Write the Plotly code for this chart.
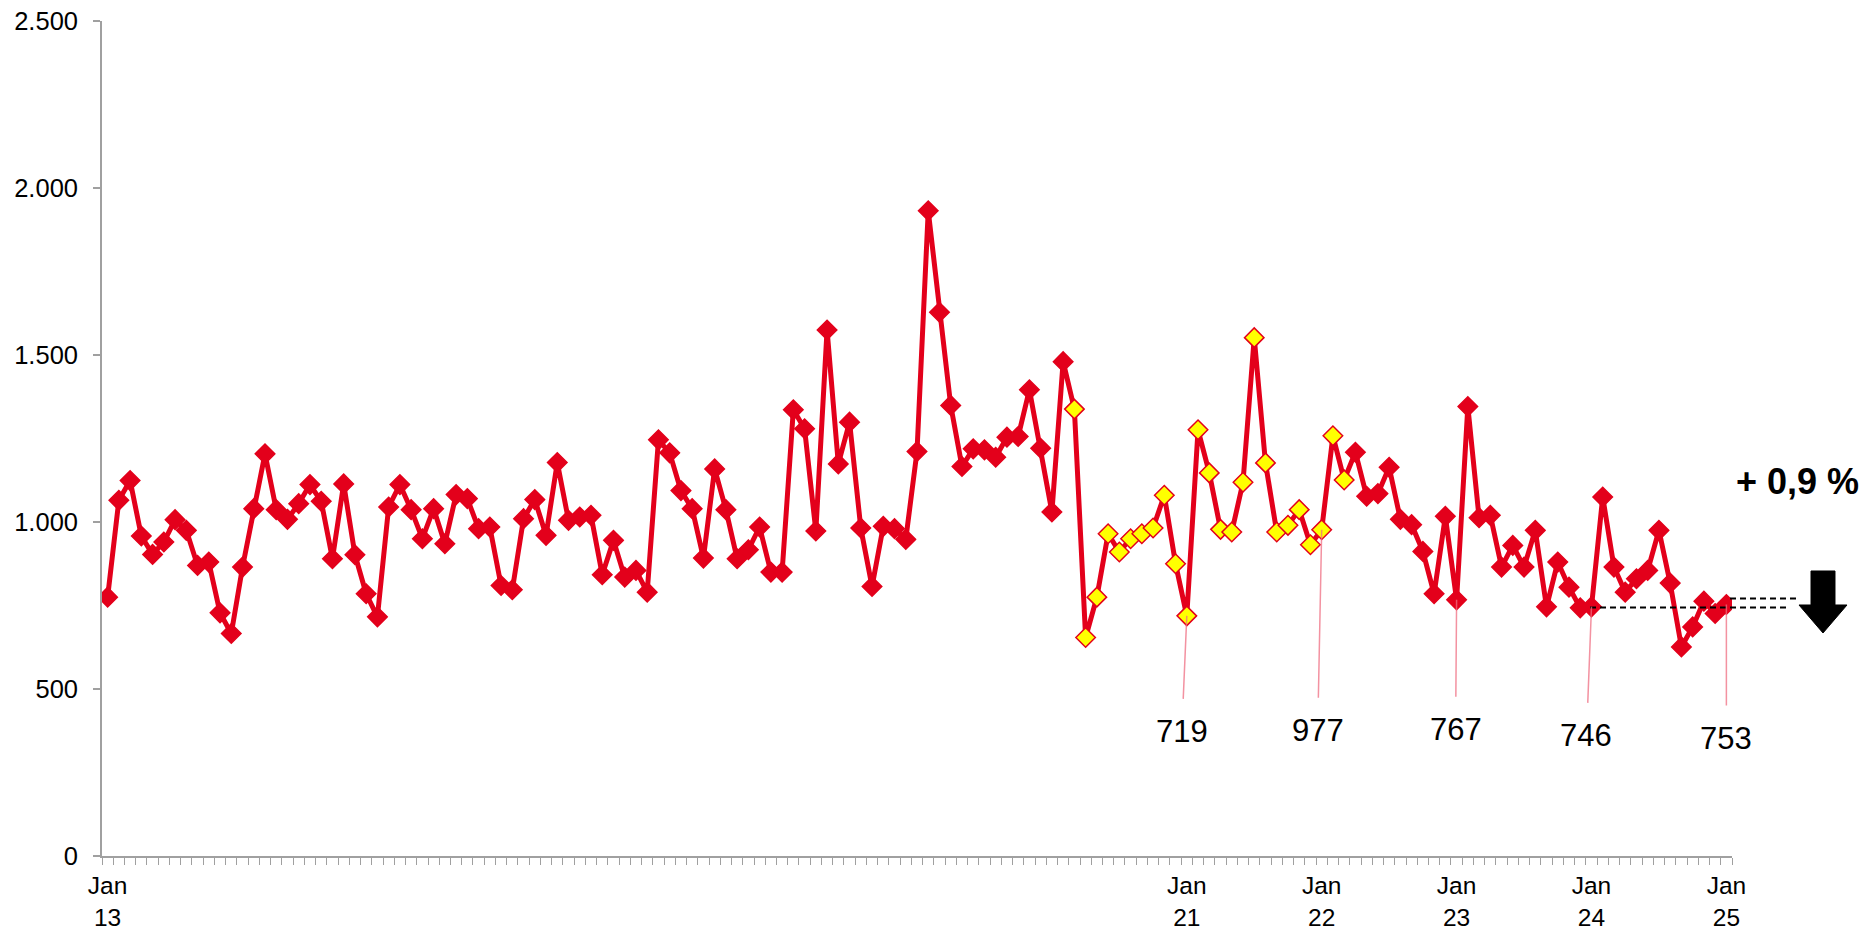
import plotly.graph_objects as go
import pandas as pd

# Monthly series Jan 2013 .. Jan 2025 (145 months)
months = [d.strftime("%b %y") for d in pd.date_range("2013-01-01", "2025-01-01", freq="MS")]

values = [
    775, 1065, 1124, 958, 903, 940, 1007, 975, 870, 880, 728, 666,      # 2013
    865, 1040, 1204, 1037, 1008, 1055, 1112, 1062, 890, 1114, 902, 785,  # 2014
    716, 1045, 1112, 1037, 950, 1040, 935, 1082, 1070, 980, 985, 810,    # 2015
    797, 1010, 1067, 960, 1178, 1005, 1015, 1020, 842, 945, 835, 855,    # 2016
    790, 1246, 1207, 1094, 1040, 892, 1159, 1037, 890, 917, 985, 850,    # 2017
    850, 1336, 1279, 973, 1575, 1174, 1299, 982, 807, 987, 980, 948,     # 2018
    1211, 1932, 1628, 1349, 1166, 1219, 1216, 1194, 1254, 1256, 1396, 1221,  # 2019
    1030, 1480, 1338, 654, 775, 965, 910, 950, 965, 982, 1080, 875,      # 2020
    719, 1276, 1147, 978, 970, 1119, 1552, 1177, 970, 990, 1037, 932,    # 2021
    977, 1258, 1126, 1209, 1077, 1085, 1164, 1008, 992, 912, 785, 1017,  # 2022
    767, 1346, 1013, 1020, 865, 930, 865, 975, 746, 880, 805, 743,       # 2023
    746, 1075, 865, 790, 830, 855, 975, 817, 626, 686, 763, 726,         # 2024
    753,                                                                  # Jan 2025
]

# months highlighted with yellow markers (Mar 2020 .. Mar 2022)
highlight_start = "Mar 20"
highlight_end = "Mar 22"

# Labelled January values and x-axis labels
label_months = ["Jan 21", "Jan 22", "Jan 23", "Jan 24", "Jan 25"]
tick_months = ["Jan 13", "Jan 21", "Jan 22", "Jan 23", "Jan 24", "Jan 25"]
tick_text = ["Jan<br>13", "Jan<br>21", "Jan<br>22", "Jan<br>23", "Jan<br>24", "Jan<br>25"]
change_text = "+ 0,9 %"

y_ticks = [0, 500, 1000, 1500, 2000, 2500]

RED = "#E3001B"
YELLOW = "#FFFF00"
GRAY = "#A0A0A0"
FONT = "Liberation Sans, Arial, sans-serif"

x = list(range(len(months)))
hs, he = months.index(highlight_start), months.index(highlight_end)
fill = [YELLOW if hs <= i <= he else RED for i in x]

fig = go.Figure()
fig.add_trace(go.Scatter(
    x=x, y=values, mode="lines+markers",
    line=dict(color=RED, width=5),
    marker=dict(symbol="diamond", size=15, color=fill, line=dict(color=RED, width=1.5)),
    hoverinfo="skip", showlegend=False,
))

# offsets (pixels) of the value labels relative to their points
label_offsets = [(-5, 116), (-4, 201), (-1, 130), (-5, 129), (0, 134)]
for m, (ax, ay) in zip(label_months, label_offsets):
    i = months.index(m)
    fig.add_annotation(
        x=i, y=values[i], xref="x", yref="y", text=f"{values[i]}",
        showarrow=True, arrowhead=0, arrowwidth=1.5, arrowcolor="rgba(240,110,130,0.75)",
        ax=ax, ay=ay, startstandoff=14,
        font=dict(family=FONT, size=31, color="black"),
    )

# Page geometry: the browser body has an 8px margin around the figure
BODY = 8
PAGE_W, PAGE_H = 1872, 932
PL, PR, PT, PB = 102, 1732, 21, 856     # plot area in page pixels
W, H = PAGE_W - BODY, PAGE_H - BODY
L, T = PL - BODY, PT - BODY
R, B = BODY + W - PR, BODY + H - PB
pw, ph = PR - PL, PB - PT

def px(xp):
    return (xp - PL) / pw

def py(yp):
    return (PB - yp) / ph

fig.add_annotation(
    x=px(1797), y=py(482), xref="paper", yref="paper", text=f"<b>{change_text}</b>",
    showarrow=False, xanchor="center", yanchor="middle",
    font=dict(family=FONT, size=36, color="black"),
)

# dashed reference lines
fig.add_shape(type="line", xref="paper", yref="paper",
              x0=px(1590), x1=px(1787), y0=py(607.5), y1=py(607.5),
              line=dict(color="black", width=1.8, dash="6px,4px"))
fig.add_shape(type="line", xref="paper", yref="paper",
              x0=px(1730), x1=px(1798), y0=py(598.5), y1=py(598.5),
              line=dict(color="black", width=1.8, dash="6px,4px"))

# down arrow
pts = [(1811, 571), (1835, 571), (1835, 605), (1847, 605), (1823, 633), (1799, 605), (1811, 605)]
path = "M " + " L ".join(f"{px(a):.5f} {py(b):.5f}" for a, b in pts) + " Z"
fig.add_shape(type="path", xref="paper", yref="paper", path=path,
              fillcolor="black", line=dict(color="black", width=1))

fig.update_layout(
    width=W, height=H,
    margin=dict(l=L, r=R, t=T, b=B, autoexpand=False),
    plot_bgcolor="white", paper_bgcolor="white",
    separators=",.",
    font=dict(family=FONT, color="black"),
    xaxis=dict(
        range=[-0.5, len(months) - 0.5],
        tickmode="array",
        tickvals=[months.index(m) for m in tick_months],
        ticktext=tick_text,
        ticks="", ticklabelstandoff=7, ticklabeloverflow="allow",
        tickfont=dict(family=FONT, size=24.5, color="black"),
        showline=True, linecolor=GRAY, linewidth=1.8,
        showgrid=False, zeroline=False,
        minor=dict(tickmode="linear", tick0=-0.5, dtick=1, ticks="outside",
                   ticklen=7, tickwidth=1.2, tickcolor=GRAY, showgrid=False),
    ),
    yaxis=dict(
        range=[0, 2500],
        tickmode="array", tickvals=y_ticks,
        separatethousands=True, tickformat=",d",
        ticks="outside", ticklen=7, tickwidth=1.5, tickcolor=GRAY,
        ticklabelstandoff=10, ticklabeloverflow="allow",
        tickfont=dict(family=FONT, size=25.5, color="black"),
        showline=True, linecolor=GRAY, linewidth=1.8,
        showgrid=False, zeroline=False,
    ),
)

fig.write_html("out.html")
